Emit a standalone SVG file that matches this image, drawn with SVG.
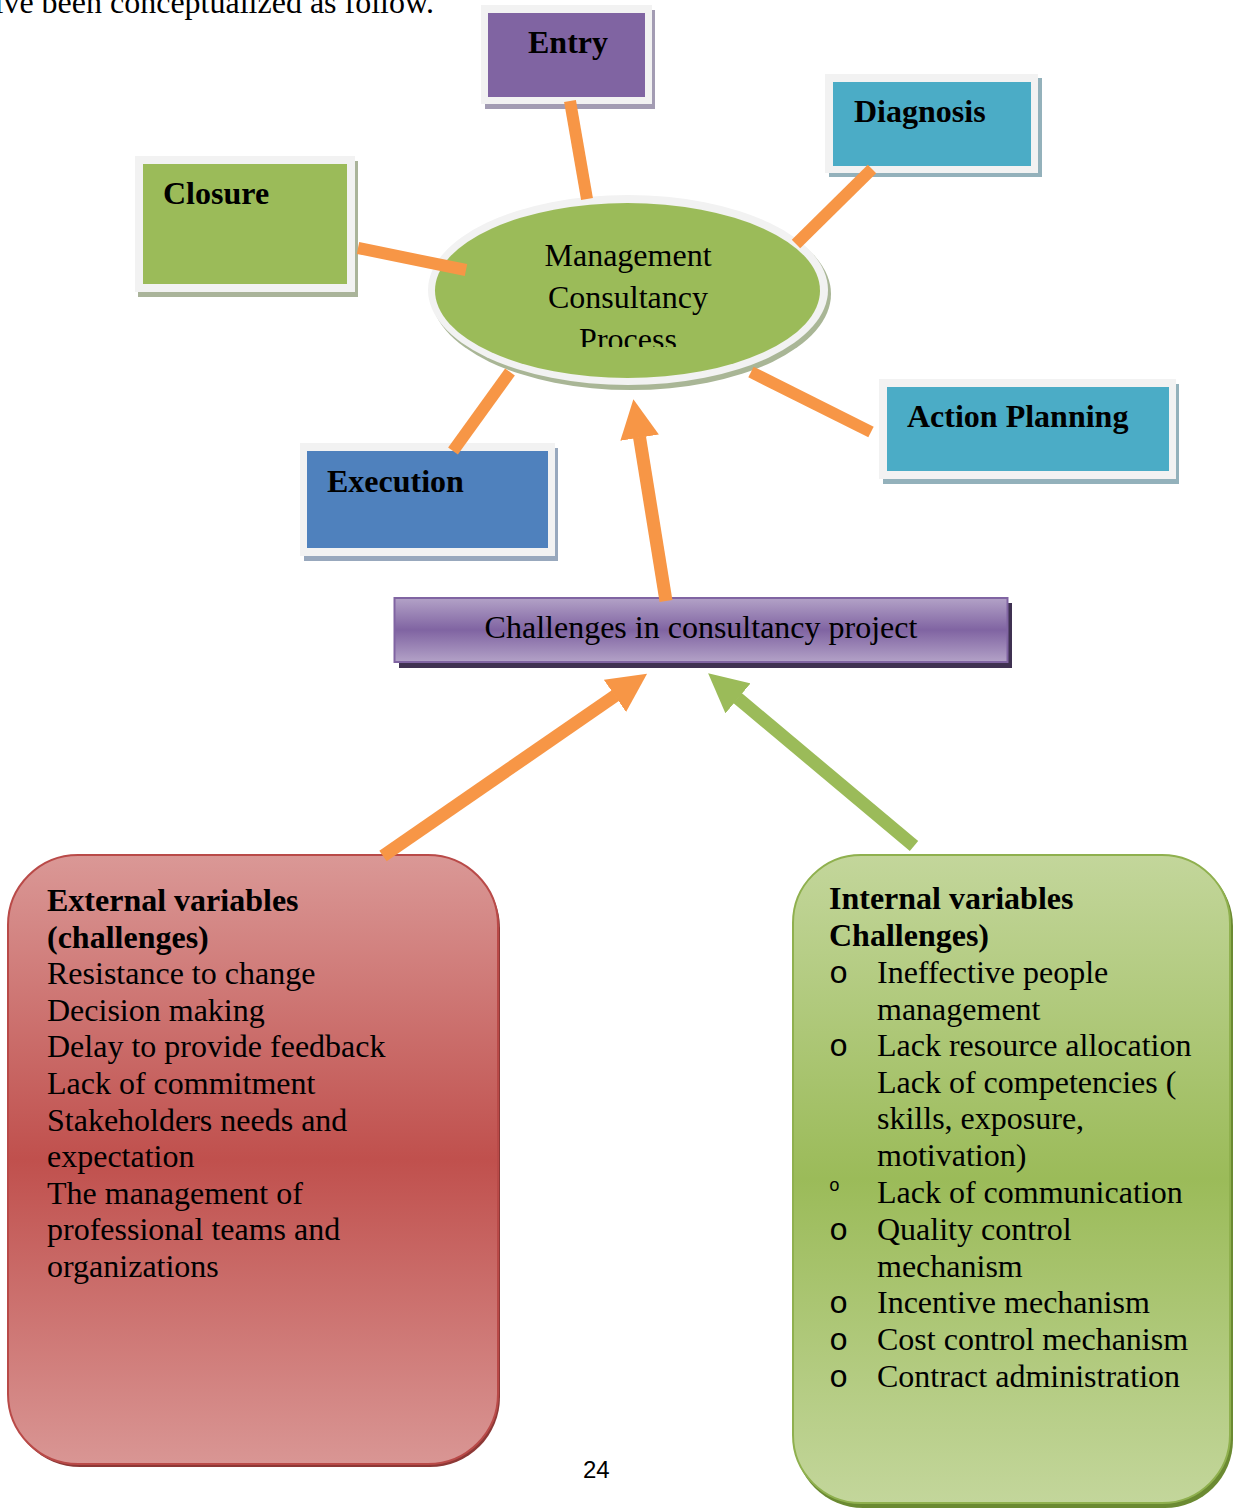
<svg xmlns="http://www.w3.org/2000/svg" width="1233" height="1509" viewBox="0 0 1233 1509">
<style>
.frame{fill:#f2f2f2}
.lbl{font-family:"Liberation Serif","Times New Roman",serif;font-size:32px;font-weight:bold;fill:#000}
.txt{font-family:"Liberation Serif","Times New Roman",serif;font-size:32px;fill:#000}
.hd{font-family:"Liberation Serif","Times New Roman",serif;font-size:32px;font-weight:bold;fill:#000}
.bul{font-family:"Liberation Mono","Courier New",monospace;font-size:32px;fill:#000}
.spoke{stroke:#f79646;stroke-width:12;fill:none}
</style>
<defs>
<linearGradient id="gPurple" x1="0" y1="0" x2="0" y2="1">
<stop offset="0" stop-color="#b3a2c7"/><stop offset="0.5" stop-color="#8064a2"/><stop offset="1" stop-color="#b3a2c7"/>
</linearGradient>
<linearGradient id="gRed" x1="0" y1="0" x2="0" y2="1">
<stop offset="0" stop-color="#da9896"/><stop offset="0.5" stop-color="#c0504d"/><stop offset="1" stop-color="#d99694"/>
</linearGradient>
<linearGradient id="gGreen" x1="0" y1="0" x2="0" y2="1">
<stop offset="0" stop-color="#c3d69b"/><stop offset="0.5" stop-color="#9bbb59"/><stop offset="1" stop-color="#c3d69b"/>
</linearGradient>
<marker id="headO" viewBox="0 -1.5 3 3" refX="0.05" refY="0" markerWidth="3" markerHeight="3" orient="auto" markerUnits="strokeWidth">
<path d="M0,-1.5 L3,0 L0,1.5 z" fill="#f79646"/>
</marker>
<marker id="headG" viewBox="0 -1.5 3 3" refX="0.05" refY="0" markerWidth="3" markerHeight="3" orient="auto" markerUnits="strokeWidth">
<path d="M0,-1.5 L3,0 L0,1.5 z" fill="#9bbb59"/>
</marker>
<clipPath id="clipMCP"><rect x="430" y="200" width="400" height="147"/></clipPath>
</defs>
<rect width="1233" height="1509" fill="#ffffff"/>
<text class="txt" x="434" y="13" text-anchor="end">ive been conceptualized as follow.</text>

<g id="node-entry">
<rect x="485" y="10" width="170" height="99" fill="#a39cb3"/>
<rect class="frame" x="481" y="5" width="171" height="99"/>
<rect x="488" y="13" width="157" height="84" fill="#8064a2"/>
<text class="lbl" x="528" y="53">Entry</text>
</g>

<g id="node-diagnosis">
<rect x="829" y="78" width="213" height="99" fill="#93b1bb"/>
<rect class="frame" x="825" y="74" width="213" height="99"/>
<rect x="833" y="82" width="198" height="84" fill="#4bacc6"/>
<text class="lbl" x="854" y="122">Diagnosis</text>
</g>

<g id="node-closure">
<rect x="138" y="161" width="220" height="136" fill="#aab49a"/>
<rect class="frame" x="135" y="156" width="220" height="136"/>
<rect x="143" y="164" width="204" height="120" fill="#9bbb59"/>
<text class="lbl" x="163" y="204">Closure</text>
</g>

<g id="node-action">
<rect x="883" y="384" width="296" height="100" fill="#93b1bb"/>
<rect class="frame" x="879" y="379" width="297" height="100"/>
<rect x="887" y="387" width="282" height="84" fill="#4bacc6"/>
<text class="lbl" x="907" y="427">Action Planning</text>
</g>

<g id="node-execution">
<rect x="304" y="448" width="254" height="113" fill="#98a8bd"/>
<rect class="frame" x="300" y="443" width="255" height="113"/>
<rect x="307" y="451" width="241" height="97" fill="#4f81bd"/>
<text class="lbl" x="327" y="492">Execution</text>
</g>

<g id="node-process">
<ellipse cx="631" cy="294" rx="200" ry="96" fill="#a9b696"/>
<ellipse cx="628" cy="290" rx="200" ry="95" fill="#f2f2f2"/>
<ellipse cx="627.5" cy="290.5" rx="192.5" ry="87.5" fill="#9bbb59"/>
<g clip-path="url(#clipMCP)">
<text class="txt" x="628" y="266" text-anchor="middle">Management</text>
<text class="txt" x="628" y="308" text-anchor="middle">Consultancy</text>
<text class="txt" x="628" y="350" text-anchor="middle">Process</text>
</g>
</g>

<g id="node-challenges">
<rect x="399" y="603" width="613" height="65" fill="#3f3151"/>
<rect x="394.5" y="598" width="613" height="64" fill="url(#gPurple)" stroke="#8064a2" stroke-width="2"/>
<text class="txt" x="701" y="638" text-anchor="middle">Challenges in consultancy project</text>
</g>

<g id="node-external">
<rect x="10" y="858" width="490" height="609" rx="70" ry="70" fill="#8c3836"/>
<rect x="8" y="855" width="490" height="609" rx="70" ry="70" fill="url(#gRed)" stroke="#b94a48" stroke-width="2"/>
<text class="hd" x="47" y="911">External variables</text>
<text class="hd" x="47" y="947.6">(challenges)</text>
<text class="txt" x="47" y="984.2">Resistance to change</text>
<text class="txt" x="47" y="1020.8">Decision making</text>
<text class="txt" x="47" y="1057.4">Delay to provide feedback</text>
<text class="txt" x="47" y="1094">Lack of commitment</text>
<text class="txt" x="47" y="1130.6">Stakeholders needs and</text>
<text class="txt" x="47" y="1167.2">expectation</text>
<text class="txt" x="47" y="1203.8">The management of</text>
<text class="txt" x="47" y="1240.4">professional teams and</text>
<text class="txt" x="47" y="1277">organizations</text>
</g>

<g id="node-internal">
<rect x="795" y="858" width="438" height="650" rx="68" ry="68" fill="#6b8a32"/>
<rect x="793" y="855" width="437" height="648" rx="68" ry="68" fill="url(#gGreen)" stroke="#8fb04e" stroke-width="2"/>
<text class="hd" x="829" y="909">Internal variables</text>
<text class="hd" x="829" y="946">Challenges)</text>
<text class="bul" x="829" y="983">o</text>
<text class="txt" x="877" y="983">Ineffective people</text>
<text class="txt" x="877" y="1019.5">management</text>
<text class="bul" x="829" y="1056">o</text>
<text class="txt" x="877" y="1056">Lack resource allocation</text>
<text class="txt" x="877" y="1092.5">Lack of competencies (</text>
<text class="txt" x="877" y="1129">skills, exposure,</text>
<text class="txt" x="877" y="1165.5">motivation)</text>
<text class="bul" x="829" y="1191" style="font-size:18px">o</text>
<text class="txt" x="877" y="1203">Lack of communication</text>
<text class="bul" x="829" y="1240">o</text>
<text class="txt" x="877" y="1240">Quality control</text>
<text class="txt" x="877" y="1276.5">mechanism</text>
<text class="bul" x="829" y="1313">o</text>
<text class="txt" x="877" y="1313">Incentive mechanism</text>
<text class="bul" x="829" y="1350">o</text>
<text class="txt" x="877" y="1350">Cost control mechanism</text>
<text class="bul" x="829" y="1387">o</text>
<text class="txt" x="877" y="1387">Contract administration</text>
</g>

<g id="connectors">
<line class="spoke" x1="570" y1="101" x2="587" y2="199"/>
<line class="spoke" x1="872" y1="169" x2="796" y2="244"/>
<line class="spoke" x1="358" y1="248" x2="466" y2="270"/>
<line class="spoke" x1="751" y1="372" x2="871" y2="432"/>
<line class="spoke" x1="510" y1="372" x2="453" y2="451"/>
<line x1="666" y1="601" x2="639.5" y2="437" stroke="#f79646" stroke-width="13" marker-end="url(#headO)"/>
<line x1="383" y1="856" x2="615.5" y2="695.5" stroke="#f79646" stroke-width="13" marker-end="url(#headO)"/>
<line x1="914" y1="846" x2="737.5" y2="698" stroke="#9bbb59" stroke-width="13" marker-end="url(#headG)"/>
</g>

<text x="583" y="1478" style="font-family:'Liberation Sans',Arial,sans-serif;font-size:24px;fill:#000">24</text>
</svg>
